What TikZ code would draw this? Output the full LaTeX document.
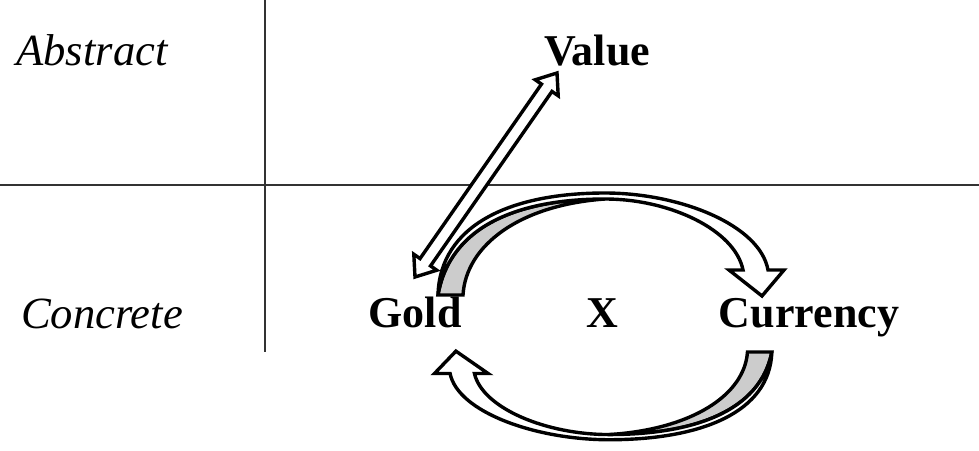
\documentclass[tikz,border=0pt]{standalone}
\usepackage{fontspec}
\setmainfont{Liberation Serif}
\usetikzlibrary{calc}
\tikzset{
  cmbase/.style={x=0.5pt,y=-0.5pt},
  cmaxis/.style={draw=black!80,line width=1.1pt},
  cmword/.style={font=\fontsize{22}{26}\selectfont\bfseries,anchor=base,inner sep=0pt},
  cmside/.style={font=\fontsize{22.3}{26}\selectfont\itshape,anchor=base,inner sep=0pt},
  cmfront/.style={draw=black,fill=white,line width=1.7pt},
  cmback/.style={draw=black,fill=black!20,line width=1.7pt}
}

\begin{document}
\begin{tikzpicture}[cmbase]
\useasboundingbox (0,0) rectangle (979,450);
\node[cmside] (abstract) at (92,65) {Abstract};
\node[cmside] (concrete) at (102,328) {Concrete};
\node[cmword] (value) at (597,65) {Value};
\node[cmword] (gold) at (415,327) {Gold};
\node[cmword] (x) at (602,327) {X};
\node[cmword] (currency) at (809,327) {Currency};
\draw[cmaxis] (265,0)--(265,352);
\draw[cmaxis] (0,185)--(979,185);
\draw[cmback] (438,295)--(463,295) .. controls (466,245) and (520,205) .. (605,199)
  .. controls (520,199) and (450,225) .. (438,295) -- cycle;
\draw[cmfront] (438,295) .. controls (440,225) and (510,193) .. (605,193)
  .. controls (680,193) and (760,225) .. (768,270) -- (784,270) -- (762,296) -- (729,270) -- (743,270)
  .. controls (735,230) and (670,199) .. (605,199) .. controls (520,199) and (450,225) .. (438,295) -- cycle;
\begin{scope}[shift={(609,352)},xscale=-0.975,yscale=-0.86,shift={(-605,-295)}]
\draw[cmback] (438,295)--(463,295) .. controls (466,245) and (520,205) .. (605,199)
  .. controls (520,199) and (450,225) .. (438,295) -- cycle;
\draw[cmfront] (438,295) .. controls (440,225) and (510,193) .. (605,193)
  .. controls (680,193) and (760,225) .. (768,270) -- (784,270) -- (762,296) -- (729,270) -- (743,270)
  .. controls (735,230) and (670,199) .. (605,199) .. controls (520,199) and (450,225) .. (438,295) -- cycle;
\end{scope}
\coordinate (gtip) at (415,277);
\coordinate (vtip) at (557,73);
\coordinate (gbase) at ($(gtip)!9pt!(vtip)$);
\coordinate (vbase) at ($(vtip)!9pt!(gtip)$);
\draw[cmfront] (gtip) -- ($(gbase)!7pt!90:(vtip)$) -- ($(gbase)!3.2pt!90:(vtip)$)
  -- ($(vbase)!3.2pt!-90:(gtip)$) -- ($(vbase)!7pt!-90:(gtip)$) -- (vtip)
  -- ($(vbase)!7pt!90:(gtip)$) -- ($(vbase)!3.2pt!90:(gtip)$)
  -- ($(gbase)!3.2pt!-90:(vtip)$) -- ($(gbase)!7pt!-90:(vtip)$) -- cycle;
\end{tikzpicture}
\end{document}
